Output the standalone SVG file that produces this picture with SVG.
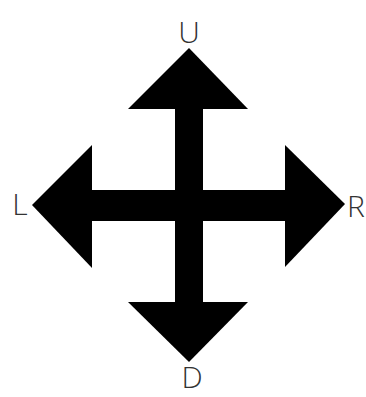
<svg xmlns="http://www.w3.org/2000/svg" width="366" height="397" viewBox="0 0 366 397">
<style>
.a{fill:#000;stroke:none}
.t{font-family:"Open Sans","Liberation Sans",sans-serif;font-size:30px;font-weight:300;fill:#333;text-anchor:middle}
</style>
<rect width="366" height="397" fill="#fff"/>
<g id="connectors">
<rect class="a" x="175" y="105" width="28" height="200"/>
<rect class="a" x="88" y="190" width="200" height="31"/>
</g>
<g id="U"><polygon class="a" points="189,48 248,109 128,109"/><text class="t" x="189" y="43">U</text></g>
<g id="D"><polygon class="a" points="189,362 248,302 128,302"/><text class="t" x="192" y="388">D</text></g>
<g id="L"><polygon class="a" points="32,205 92,145 92,268"/><text class="t" x="20" y="215">L</text></g>
<g id="R"><polygon class="a" points="345,204 285,145 285,267"/><text class="t" x="356" y="217">R</text></g>
</svg>
